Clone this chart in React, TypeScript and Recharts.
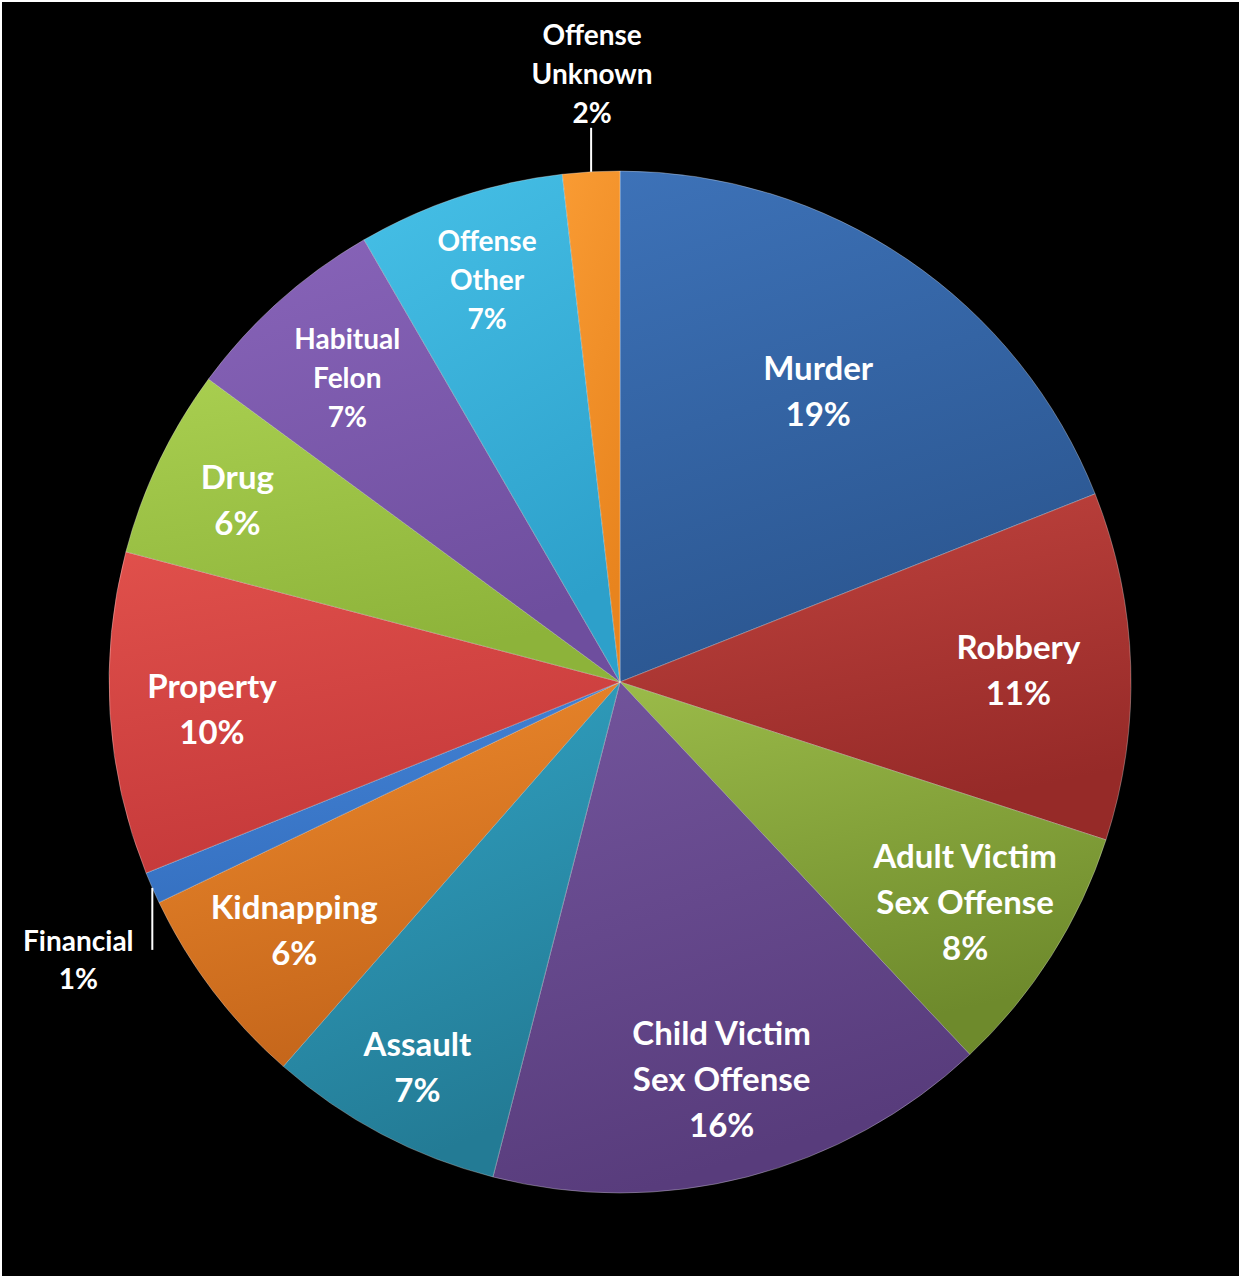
import { PieChart, Pie, Cell } from "recharts"

const categories = [
  "Murder",
  "Robbery",
  "Adult Victim Sex Offense",
  "Child Victim Sex Offense",
  "Assault",
  "Kidnapping",
  "Financial",
  "Property",
  "Drug",
  "Habitual Felon",
  "Offense Other",
  "Offense Unknown",
]

const shares = [19, 11, 8, 16, 7.45, 6.45, 1, 10.2, 6, 6.55, 6.55, 1.8]

const topColors = [
  "#3d72b8", "#c2443f", "#9bbb49", "#73559d", "#32a4c5", "#ef8b2d",
  "#4585d8", "#e0504b", "#a9cf50", "#8864b9", "#46c0e7", "#f99b33",
]
const bottomColors = [
  "#2b5690", "#962a28", "#6e8a2c", "#583c7c", "#237b95", "#c5661b",
  "#3570c0", "#c5393a", "#8db33a", "#6e4e9e", "#2da0ca", "#e8841e",
]

const data = categories.map((name, i) => ({ name, value: shares[i] }))

const smallLabels = ["Habitual Felon", "Offense Other", "Offense Unknown", "Financial"]
const labelRadius: Record<string, number> = {
  Murder: 0.69,
  Robbery: 0.78,
  Assault: 0.85,
  Drug: 0.83,
  "Offense Other": 0.83,
}

const RAD = Math.PI / 180

function wrap(name: string) {
  const words = name.split(" ")
  const lines: string[] = []
  let cur = ""
  for (const w of words) {
    const next = cur ? cur + " " + w : w
    if (next.length > 12 && cur) {
      lines.push(cur)
      cur = w
    } else cur = next
  }
  if (cur) lines.push(cur)
  return lines
}

const renderLabel = (props: any) => {
  const { cx, cy, midAngle, outerRadius, percent, name } = props
  const pct = Math.round(percent * 100) + "%"
  const small = smallLabels.includes(name)
  const fs = small ? 28 : 33
  const lh = small ? 39 : 46
  const style = { fontFamily: "Lato, 'Open Sans', sans-serif", fontWeight: 700, fontSize: fs }

  if (name === "Financial" || name === "Offense Unknown") {
    const rx = cx + outerRadius * Math.cos(-midAngle * RAD)
    const ry = cy + outerRadius * Math.sin(-midAngle * RAD)
    if (name === "Financial") {
      const tx = rx - 74
      return (
        <g>
          <line x1={rx} y1={ry} x2={rx} y2={ry + 62} stroke="#fff" strokeWidth={2} />
          <text x={tx} y={ry + 52} fill="#fff" textAnchor="middle" dominantBaseline="central" style={style}>
            {name}
          </text>
          <text x={tx} y={ry + 90} fill="#fff" textAnchor="middle" dominantBaseline="central" style={style}>
            {pct}
          </text>
        </g>
      )
    }
    const lines = [...wrap(name), pct]
    return (
      <g>
        <line x1={rx} y1={ry} x2={rx} y2={ry - 44} stroke="#fff" strokeWidth={2} />
        {lines.map((t, i) => (
          <text key={i} x={rx + 1} y={ry - 60 - (lines.length - 1 - i) * lh} fill="#fff" textAnchor="middle" dominantBaseline="central" style={style}>
            {t}
          </text>
        ))}
      </g>
    )
  }

  const r = outerRadius * (labelRadius[name] ?? 0.8)
  const x = cx + r * Math.cos(-midAngle * RAD)
  const y = cy + r * Math.sin(-midAngle * RAD)
  const lines = [...wrap(name), pct]
  const top = y - ((lines.length - 1) * lh) / 2
  return (
    <g>
      {lines.map((t, i) => (
        <text key={i} x={x} y={top + i * lh} fill="#fff" textAnchor="middle" dominantBaseline="central" style={style}>
          {t}
        </text>
      ))}
    </g>
  )
}

export default function App() {
  return (
    <div style={{ position: "absolute", left: 2, top: 2, width: 1237, height: 1274, background: "#000" }}>
      <PieChart width={1237} height={1274} margin={{ top: 0, right: 0, bottom: 0, left: 0 }}>
        <defs>
          {categories.map((c, i) => (
            <linearGradient key={c} id={"g" + i} x1="0" y1="0" x2="0.3" y2="1">
              <stop offset="0%" stopColor={topColors[i]} />
              <stop offset="100%" stopColor={bottomColors[i]} />
            </linearGradient>
          ))}
        </defs>
        <Pie
          data={data}
          dataKey="value"
          nameKey="name"
          cx={618}
          cy={680}
          outerRadius={511}
          startAngle={90}
          endAngle={-270}
          stroke="rgba(255,255,255,0.3)"
          strokeWidth={1}
          labelLine={false}
          label={renderLabel}
          isAnimationActive={false}
        >
          {data.map((d, i) => (
            <Cell key={d.name} fill={`url(#g${i})`} />
          ))}
        </Pie>
      </PieChart>
    </div>
  )
}
